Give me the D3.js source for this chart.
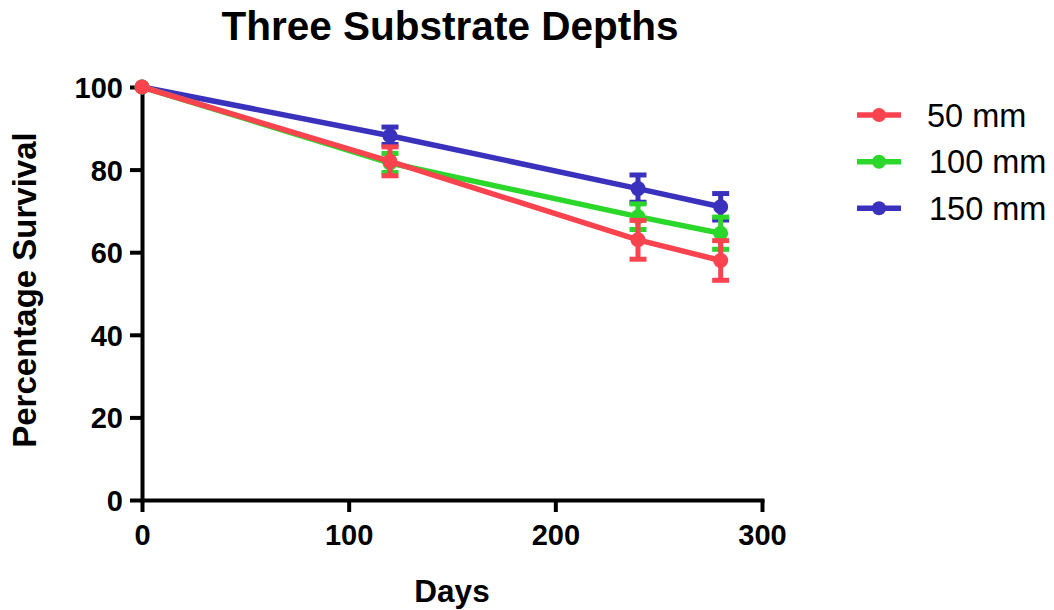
<!DOCTYPE html>
<html>
<head>
<meta charset="utf-8">
<script src="https://cdn.jsdelivr.net/npm/d3@7"></script>
<style>
  html, body { margin: 0; padding: 0; background: #fff; }
  svg { display: block; font-family: "Liberation Sans", Arial, Helvetica, sans-serif; }
</style>
</head>
<body>
<svg id="chart" width="1054" height="610"></svg>
<script>
// ---- data ----
const days = [0, 120, 240, 280];
const seriesNames = ["50 mm", "100 mm", "150 mm"];
const colors = ["#F9434F", "#2BD72B", "#3A31BD"];
const mean50 = [100, 82.0, 63.0, 58.0];
const err50 = [0, 3.5, 4.7, 4.8];
const mean100 = [100, 81.6, 68.6, 64.6];
const err100 = [0, 2.3, 3.1, 3.9];
const mean150 = [100, 88.2, 75.4, 71.0];
const err150 = [0, 2.1, 3.3, 3.2];
const xTicks = [0, 100, 200, 300];
const yTicks = [0, 20, 40, 60, 80, 100];

const series = [
  { name: seriesNames[0], color: colors[0], mean: mean50, err: err50 },
  { name: seriesNames[1], color: colors[1], mean: mean100, err: err100 },
  { name: seriesNames[2], color: colors[2], mean: mean150, err: err150 }
];

const svg = d3.select("#chart");
const x = d3.scaleLinear().domain([0, 300]).range([142, 762]);
const y = d3.scaleLinear().domain([0, 100]).range([500, 87]);

// title
svg.append("text").attr("x", 450).attr("y", 40).attr("text-anchor", "middle")
  .attr("font-size", 40.5).attr("font-weight", "bold").text("Three Substrate Depths");

// axis labels
svg.append("text").attr("x", 452).attr("y", 602).attr("text-anchor", "middle")
  .attr("font-size", 31.5).attr("font-weight", "bold").text("Days");
svg.append("text").attr("transform", "translate(36,290) rotate(-90)").attr("text-anchor", "middle")
  .attr("font-size", 33).attr("font-weight", "bold").text("Percentage Survival");

// axes
const xAxis = svg.append("g").attr("transform", "translate(0,500)")
  .call(d3.axisBottom(x).tickValues(xTicks).tickSize(12).tickSizeOuter(0).tickPadding(12));
const yAxis = svg.append("g").attr("transform", "translate(142,0)")
  .call(d3.axisLeft(y).tickValues(yTicks).tickSize(12).tickSizeOuter(0).tickPadding(7));
[xAxis, yAxis].forEach(g => {
  g.select(".domain").attr("stroke", "#000").attr("stroke-width", 4).attr("stroke-linecap", "square");
  g.selectAll(".tick line").attr("stroke", "#000").attr("stroke-width", 4);
  g.selectAll(".tick text").attr("fill", "#000").attr("font-size", 29).attr("font-weight", "bold")
    .attr("font-family", "'Liberation Sans', Arial, sans-serif");
});
yAxis.selectAll(".tick text").attr("dy", "0.36em");
xAxis.selectAll(".tick text").attr("dy", "0.72em");

// series drawn in reverse so 50 mm sits on top
const plot = svg.append("g");
const line = d3.line().x((d, i) => x(days[i])).y(d => y(d));
series.slice().reverse().forEach(s => {
  const g = plot.append("g");
  g.append("path").datum(s.mean).attr("d", line).attr("fill", "none")
    .attr("stroke", s.color).attr("stroke-width", 5.5);
  days.forEach((dv, i) => {
    if (s.err[i] > 0) {
      const cx = x(dv), y1 = y(s.mean[i] + s.err[i]), y2 = y(s.mean[i] - s.err[i]);
      g.append("line").attr("x1", cx).attr("x2", cx).attr("y1", y1).attr("y2", y2)
        .attr("stroke", s.color).attr("stroke-width", 5);
      [y1, y2].forEach(yy => g.append("line").attr("x1", cx - 8.5).attr("x2", cx + 8.5)
        .attr("y1", yy).attr("y2", yy).attr("stroke", s.color).attr("stroke-width", 5));
    }
    g.append("circle").attr("cx", x(dv)).attr("cy", y(s.mean[i])).attr("r", 7.5).attr("fill", s.color);
  });
});

// legend
const legendY = [115, 161.7, 208.3];
series.forEach((s, i) => {
  const g = svg.append("g").attr("transform", `translate(0,${legendY[i]})`);
  g.append("line").attr("x1", 857).attr("x2", 901).attr("y1", 0).attr("y2", 0)
    .attr("stroke", s.color).attr("stroke-width", 5.5);
  g.append("circle").attr("cx", 879).attr("cy", 0).attr("r", 7).attr("fill", s.color);
  g.append("text").attr("x", i === 0 ? 927 : 929).attr("y", 0).attr("dy", "0.36em")
    .attr("font-size", 32.5).attr("fill", "#000").text(s.name);
});
</script>
</body>
</html>
